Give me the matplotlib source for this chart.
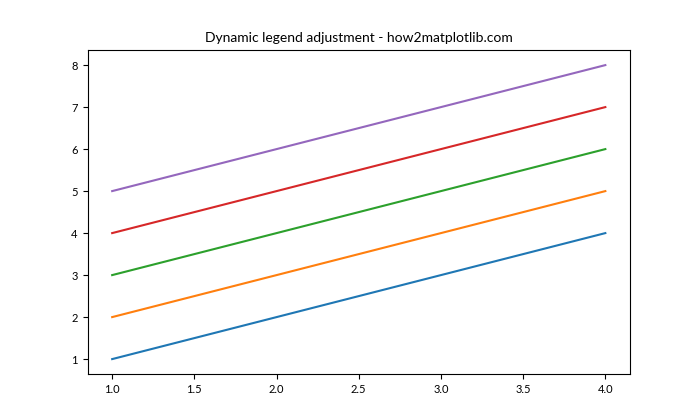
import matplotlib.pyplot as plt

plt.rcParams['font.family'] = ['Lato', 'DejaVu Sans']

x = [1, 2, 3, 4]
series = [
    [1, 2, 3, 4],
    [2, 3, 4, 5],
    [3, 4, 5, 6],
    [4, 5, 6, 7],
    [5, 6, 7, 8],
]
labels = ['Line 1', 'Line 2', 'Line 3', 'Line 4', 'Line 5']

fig, ax = plt.subplots(figsize=(7, 4.2), dpi=100)
for y, label in zip(series, labels):
    ax.plot(x, y, label=label)

ax.set_title('Dynamic legend adjustment - how2matplotlib.com', fontsize=10)
ax.tick_params(labelsize=8)
fig.savefig('out.png')
